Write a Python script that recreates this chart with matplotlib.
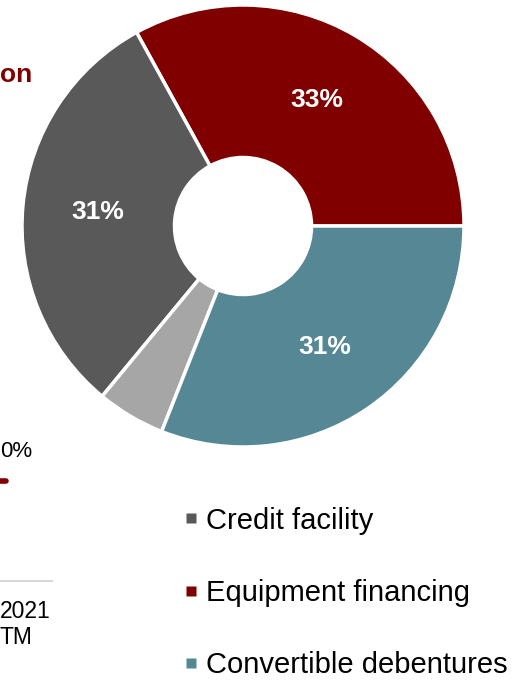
import matplotlib.pyplot as plt
from matplotlib.lines import Line2D

# funding mix, percent of total
sources = ['Equipment financing', 'Credit facility', 'Other', 'Convertible debentures']
shares = [33, 31, 5, 31]
colors = ['#800000', '#595959', '#a6a6a6', '#558894']
legend_items = ['Credit facility', 'Equipment financing', 'Convertible debentures']

plt.rcParams['font.family'] = ['Liberation Sans', 'DejaVu Sans']

W, H = 522, 680
fig = plt.figure(figsize=(W / 100, H / 100), dpi=100, facecolor='white')

# page furniture cut off at the left edge
page = fig.add_axes([0, 0, 1, 1])
page.set_xlim(0, W)
page.set_ylim(H, 0)
page.axis('off')
page.text(0, 82, 'on', color='#800000', fontsize=19, fontweight='bold', va='baseline')
page.text(0, 457, '0%', color='black', fontsize=16, va='baseline')
page.plot([0, 6], [481, 481], color='#800000', lw=4, solid_capstyle='round')
page.plot([0, 52], [581, 581], color='#d9d9d9', lw=1.5)
page.text(0, 618, '2021', color='black', fontsize=16.5, va='baseline')
page.text(0, 644, 'TM', color='black', fontsize=16.5, va='baseline')

# donut
cx, cy, r = 243, 226, 221
ax = fig.add_axes([(cx - r) / W, (H - cy - r) / H, 2 * r / W, 2 * r / H])
wedges, _, pcts = ax.pie(shares, colors=colors, startangle=0, counterclock=True,
                         autopct=lambda p: f'{p:.0f}%' if p > 10 else '', pctdistance=0.66,
                         wedgeprops=dict(width=0.69, edgecolor='white', linewidth=2.5))
for t in pcts:
    t.set_color('white')
    t.set_fontsize(19)
    t.set_fontweight('bold')
ax.set_xlim(-1, 1)
ax.set_ylim(-1, 1)
ax.set_aspect('equal')

handles = [Line2D([], [], ls='none', marker='s', markersize=7,
                  markerfacecolor=colors[sources.index(s)], markeredgecolor='none')
           for s in legend_items]
fig.legend(handles, legend_items, loc='upper left', bbox_to_anchor=(170 / W, 1 - 492 / H),
           frameon=False, fontsize=21, handlelength=0.45, handletextpad=0.3,
           labelspacing=1.52, borderpad=0)

fig.savefig('out.png', dpi=100, facecolor='white')
